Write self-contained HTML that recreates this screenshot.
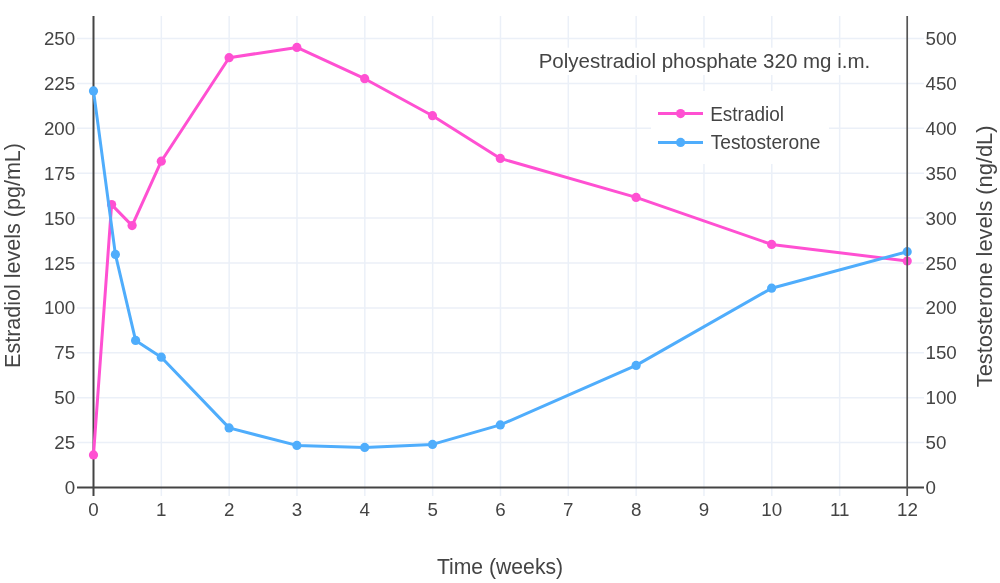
<!DOCTYPE html><html><head><meta charset="utf-8"><style>html,body{margin:0;padding:0;background:#fff;width:1000px;height:583px;overflow:hidden}svg{display:block;will-change:transform}text{font-family:"Liberation Sans",sans-serif;fill:#444}</style></head><body>
<svg width="1000" height="583" viewBox="0 0 1000 583">
<rect x="0" y="0" width="1000" height="583" fill="#fff"/>
<path d="M161.33 16V496 M229.16 16V496 M296.99 16V496 M364.82 16V496 M432.65 16V496 M500.48 16V496 M568.31 16V496 M636.14 16V496 M703.97 16V496 M771.80 16V496 M839.63 16V496 M77 442.60H924 M77 397.70H924 M77 352.80H924 M77 307.90H924 M77 263.00H924 M77 218.10H924 M77 173.20H924 M77 128.30H924 M77 83.40H924 M77 38.50H924" stroke="#ebf0f8" stroke-width="1.5" fill="none"/>
<path d="M93.50 16V496M77 487.50H924" stroke="#444" stroke-width="2" fill="none"/>
<path d="M93.5 454.9 L111.6 204.6 L132.1 225.6 L161.3 161.2 L229.1 57.7 L296.9 47.4 L364.7 78.7 L432.5 115.7 L500.3 158.4 L636.1 197.4 L771.6 244.4 L907.2 261.0" stroke="#ff50d2" stroke-width="3" fill="none" stroke-linejoin="round"/><circle cx="93.5" cy="454.9" r="4.6" fill="#ff50d2"/><circle cx="111.6" cy="204.6" r="4.6" fill="#ff50d2"/><circle cx="132.1" cy="225.6" r="4.6" fill="#ff50d2"/><circle cx="161.3" cy="161.2" r="4.6" fill="#ff50d2"/><circle cx="229.1" cy="57.7" r="4.6" fill="#ff50d2"/><circle cx="296.9" cy="47.4" r="4.6" fill="#ff50d2"/><circle cx="364.7" cy="78.7" r="4.6" fill="#ff50d2"/><circle cx="432.5" cy="115.7" r="4.6" fill="#ff50d2"/><circle cx="500.3" cy="158.4" r="4.6" fill="#ff50d2"/><circle cx="636.1" cy="197.4" r="4.6" fill="#ff50d2"/><circle cx="771.6" cy="244.4" r="4.6" fill="#ff50d2"/><circle cx="907.2" cy="261.0" r="4.6" fill="#ff50d2"/>
<path d="M93.5 90.9 L115.4 254.4 L135.6 340.4 L161.3 357.2 L229.1 427.9 L296.9 445.4 L364.7 447.4 L432.5 444.4 L500.3 424.9 L636.1 365.4 L771.6 288.2 L907.2 251.7" stroke="#4fadfc" stroke-width="3" fill="none" stroke-linejoin="round"/><circle cx="93.5" cy="90.9" r="4.6" fill="#4fadfc"/><circle cx="115.4" cy="254.4" r="4.6" fill="#4fadfc"/><circle cx="135.6" cy="340.4" r="4.6" fill="#4fadfc"/><circle cx="161.3" cy="357.2" r="4.6" fill="#4fadfc"/><circle cx="229.1" cy="427.9" r="4.6" fill="#4fadfc"/><circle cx="296.9" cy="445.4" r="4.6" fill="#4fadfc"/><circle cx="364.7" cy="447.4" r="4.6" fill="#4fadfc"/><circle cx="432.5" cy="444.4" r="4.6" fill="#4fadfc"/><circle cx="500.3" cy="424.9" r="4.6" fill="#4fadfc"/><circle cx="636.1" cy="365.4" r="4.6" fill="#4fadfc"/><circle cx="771.6" cy="288.2" r="4.6" fill="#4fadfc"/><circle cx="907.2" cy="251.7" r="4.6" fill="#4fadfc"/>
<path d="M907.2 16V496" stroke="#555" stroke-width="1.7" fill="none"/>
<text x="75.2" y="494.00" font-size="18.75" text-anchor="end">0</text>
<text x="925.5" y="494.00" font-size="18.75">0</text>
<text x="75.2" y="449.10" font-size="18.75" text-anchor="end">25</text>
<text x="925.5" y="449.10" font-size="18.75">50</text>
<text x="75.2" y="404.20" font-size="18.75" text-anchor="end">50</text>
<text x="925.5" y="404.20" font-size="18.75">100</text>
<text x="75.2" y="359.30" font-size="18.75" text-anchor="end">75</text>
<text x="925.5" y="359.30" font-size="18.75">150</text>
<text x="75.2" y="314.40" font-size="18.75" text-anchor="end">100</text>
<text x="925.5" y="314.40" font-size="18.75">200</text>
<text x="75.2" y="269.50" font-size="18.75" text-anchor="end">125</text>
<text x="925.5" y="269.50" font-size="18.75">250</text>
<text x="75.2" y="224.60" font-size="18.75" text-anchor="end">150</text>
<text x="925.5" y="224.60" font-size="18.75">300</text>
<text x="75.2" y="179.70" font-size="18.75" text-anchor="end">175</text>
<text x="925.5" y="179.70" font-size="18.75">350</text>
<text x="75.2" y="134.80" font-size="18.75" text-anchor="end">200</text>
<text x="925.5" y="134.80" font-size="18.75">400</text>
<text x="75.2" y="89.90" font-size="18.75" text-anchor="end">225</text>
<text x="925.5" y="89.90" font-size="18.75">450</text>
<text x="75.2" y="45.00" font-size="18.75" text-anchor="end">250</text>
<text x="925.5" y="45.00" font-size="18.75">500</text>
<text x="93.50" y="515.7" font-size="18.75" text-anchor="middle">0</text>
<text x="161.33" y="515.7" font-size="18.75" text-anchor="middle">1</text>
<text x="229.16" y="515.7" font-size="18.75" text-anchor="middle">2</text>
<text x="296.99" y="515.7" font-size="18.75" text-anchor="middle">3</text>
<text x="364.82" y="515.7" font-size="18.75" text-anchor="middle">4</text>
<text x="432.65" y="515.7" font-size="18.75" text-anchor="middle">5</text>
<text x="500.48" y="515.7" font-size="18.75" text-anchor="middle">6</text>
<text x="568.31" y="515.7" font-size="18.75" text-anchor="middle">7</text>
<text x="636.14" y="515.7" font-size="18.75" text-anchor="middle">8</text>
<text x="703.97" y="515.7" font-size="18.75" text-anchor="middle">9</text>
<text x="771.80" y="515.7" font-size="18.75" text-anchor="middle">10</text>
<text x="839.63" y="515.7" font-size="18.75" text-anchor="middle">11</text>
<text x="907.46" y="515.7" font-size="18.75" text-anchor="middle">12</text>
<text transform="translate(19.6 255.5) rotate(-90)" font-size="21.8" text-anchor="middle" textLength="224.9" lengthAdjust="spacingAndGlyphs">Estradiol levels (pg/mL)</text>
<text transform="translate(991.6 256.4) rotate(-90)" font-size="21.8" text-anchor="middle" textLength="261.6" lengthAdjust="spacingAndGlyphs">Testosterone levels (ng/dL)</text>
<text x="500" y="574" font-size="21.8" text-anchor="middle" textLength="126.2" lengthAdjust="spacingAndGlyphs">Time (weeks)</text>
<rect x="536" y="47.7" width="337" height="27.3" fill="#fff"/>
<text x="538.7" y="68.1" font-size="20.5" textLength="331.5" lengthAdjust="spacingAndGlyphs">Polyestradiol phosphate 320 mg i.m.</text>
<rect x="651" y="91" width="178" height="73" fill="#fff"/>
<path d="M658 113.6H703" stroke="#ff50d2" stroke-width="3"/><circle cx="680.6" cy="113.6" r="4.6" fill="#ff50d2"/>
<text x="710.2" y="120.9" font-size="19.5" textLength="73.8" lengthAdjust="spacingAndGlyphs">Estradiol</text>
<path d="M658 142.4H703" stroke="#4fadfc" stroke-width="3"/><circle cx="680.6" cy="142.4" r="4.6" fill="#4fadfc"/>
<text x="710.7" y="149.2" font-size="19.5" textLength="109.8" lengthAdjust="spacingAndGlyphs">Testosterone</text>
</svg></body></html>
